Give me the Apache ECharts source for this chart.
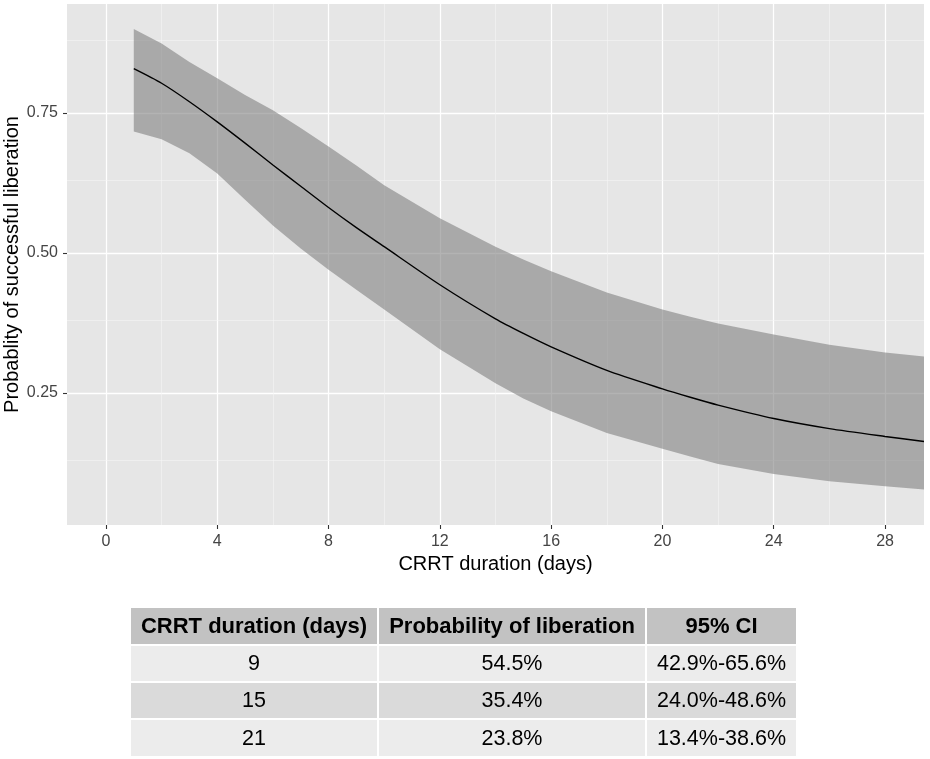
<!DOCTYPE html>
<html><head><meta charset="utf-8">
<script src="https://cdn.jsdelivr.net/npm/echarts@6/dist/echarts.min.js"></script>
<style>html,body{margin:0;padding:0;background:#fff}#c{width:930px;height:759px}</style>
</head><body><div id="c"></div>
<script>
// ---- data ----
const days  = [1, 2, 3, 4, 5, 6, 7, 8, 9, 10, 12, 14, 15, 16, 18, 20, 21, 22, 24, 26, 28, 29.4];
const fit   = [0.829, 0.803, 0.770, 0.734, 0.696, 0.657, 0.619, 0.581, 0.545, 0.511, 0.443, 0.382, 0.356, 0.332, 0.290, 0.257, 0.242, 0.228, 0.204, 0.186, 0.172, 0.163];
const lower = [0.717, 0.703, 0.678, 0.642, 0.595, 0.549, 0.508, 0.470, 0.434, 0.399, 0.328, 0.267, 0.240, 0.217, 0.178, 0.150, 0.136, 0.123, 0.105, 0.092, 0.083, 0.077];
const upper = [0.900, 0.874, 0.841, 0.812, 0.782, 0.755, 0.723, 0.690, 0.656, 0.621, 0.562, 0.511, 0.488, 0.467, 0.429, 0.399, 0.386, 0.374, 0.354, 0.336, 0.322, 0.315];

const xTicks = [0, 4, 8, 12, 16, 20, 24, 28];
const xMinor = [2, 6, 10, 14, 18, 22, 26];
const yTicks = [0.25, 0.50, 0.75];
const yMinor = [0.125, 0.375, 0.625, 0.875];

const xTitle = 'CRRT duration (days)';
const yTitle = 'Probablity of successful liberation';

const tableHeader = ['CRRT duration (days)', 'Probability of liberation', '95% CI'];
const tableDays   = ['9', '15', '21'];
const tableProb   = ['54.5%', '35.4%', '23.8%'];
const tableCI     = ['42.9%-65.6%', '24.0%-48.6%', '13.4%-38.6%'];

// ---- layout ----
const FONT = "'Liberation Sans', Arial, Helvetica, sans-serif";
const colX = [131, 379, 647];
const colW = [246, 266, 149];
const rowY = [608, 646, 683, 720];
const rowH = [36, 35, 35, 36];
const rowFill = ['#c2c2c2', '#ececec', '#dadada', '#ececec'];

const graphics = [{
  type: 'text', silent: true,
  x: 12.5, y: 264.5, rotation: Math.PI / 2,
  style: { text: yTitle, fill: '#000', font: '20px ' + FONT, align: 'center', verticalAlign: 'middle' }
}];
const rows = [tableHeader].concat(tableDays.map((d, i) => [d, tableProb[i], tableCI[i]]));
rows.forEach((row, r) => {
  row.forEach((txt, c) => {
    graphics.push({
      type: 'rect', silent: true,
      shape: { x: colX[c], y: rowY[r], width: colW[c], height: rowH[r] },
      style: { fill: rowFill[r] }
    });
    graphics.push({
      type: 'text', silent: true,
      x: colX[c] + colW[c] / 2, y: rowY[r] + rowH[r] / 2 + 1,
      style: {
        text: txt, fill: '#000',
        font: (r === 0 ? 'bold 22px ' : '21.5px ') + FONT,
        align: 'center', verticalAlign: 'middle'
      }
    });
  });
});

const major = { type: 'solid', width: 1.3, color: '#ffffff' };
const minor = { type: 'solid', width: 0.6, color: '#f5f5f5' };
const gridMarks = []
  .concat(xTicks.map(v => ({ xAxis: v, lineStyle: major })))
  .concat(yTicks.map(v => ({ yAxis: v, lineStyle: major })))
  .concat(xMinor.map(v => ({ xAxis: v, lineStyle: minor })))
  .concat(yMinor.map(v => ({ yAxis: v, lineStyle: minor })));

const chart = echarts.init(document.getElementById('c'), null, { renderer: 'canvas' });
chart.setOption({
  animation: false,
  backgroundColor: '#ffffff',
  textStyle: { fontFamily: FONT },
  grid: {
    left: 67, top: 4, width: 857, height: 521,
    containLabel: false, outerBoundsMode: 'none',
    show: true, backgroundColor: '#e6e6e6', borderWidth: 0
  },
  xAxis: {
    type: 'value', min: -1.4, max: 29.4,
    name: xTitle, nameLocation: 'middle', nameGap: 27,
    nameTextStyle: { fontSize: 20, color: '#000', fontFamily: FONT },
    axisLine: { show: false, onZero: false },
    axisTick: { show: true, length: 4, customValues: xTicks, lineStyle: { color: '#333', width: 1.1 } },
    axisLabel: { customValues: xTicks, margin: 9, fontSize: 16, color: '#444444', fontFamily: FONT },
    splitLine: { show: false }
  },
  yAxis: {
    type: 'value', min: 0.0138, max: 0.9446,
    axisLine: { show: false, onZero: false },
    axisTick: { show: true, length: 4, customValues: yTicks, lineStyle: { color: '#333', width: 1.1 } },
    axisLabel: { customValues: yTicks, margin: 9, fontSize: 16, color: '#444444', fontFamily: FONT,
      formatter: v => Number(v).toFixed(2) },
    splitLine: { show: false }
  },
  graphic: graphics,
  series: [
    {
      type: 'custom',
      name: 'CI',
      z: 2,
      silent: true,
      data: [[days[0], fit[0]]],
      markLine: {
        silent: true, z: 1, symbol: ['none', 'none'],
        label: { show: false }, emphasis: { disabled: true },
        lineStyle: { type: 'solid' },
        data: gridMarks
      },
      renderItem: function (params, api) {
        const pts = [];
        for (let i = 0; i < days.length; i++) pts.push(api.coord([days[i], upper[i]]));
        for (let i = days.length - 1; i >= 0; i--) pts.push(api.coord([days[i], lower[i]]));
        return {
          type: 'polygon',
          shape: { points: pts },
          style: { fill: 'rgba(128,128,128,0.6)', stroke: null }
        };
      }
    },
    {
      type: 'line',
      name: 'fit',
      z: 3,
      silent: true,
      smooth: 0.25,
      symbol: 'none',
      data: days.map((d, i) => [d, fit[i]]),
      lineStyle: { color: '#000', width: 1.4 }
    }
  ]
});
</script>
</body></html>
